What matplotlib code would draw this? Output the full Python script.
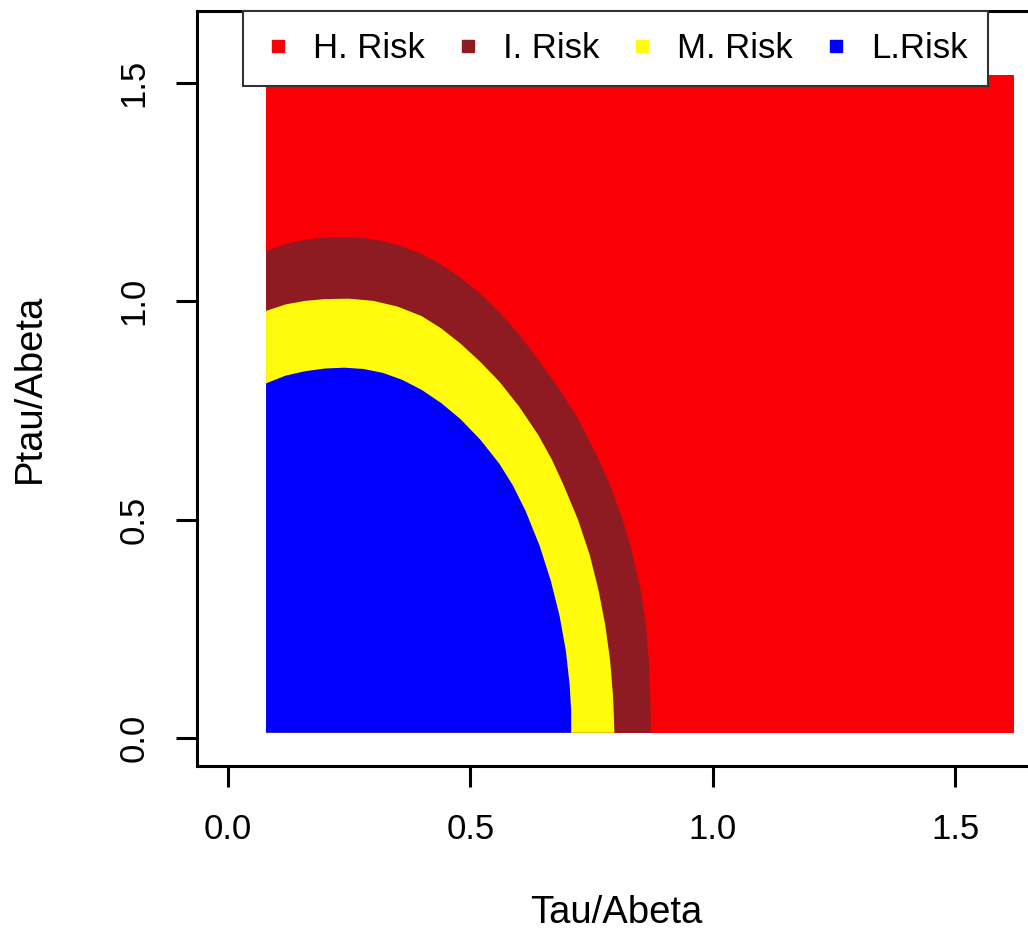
import matplotlib
matplotlib.use('Agg')
import matplotlib.pyplot as plt
from matplotlib.lines import Line2D

plt.rcParams['font.family'] = ['Liberation Sans', 'DejaVu Sans']

# Zona cubierta por la malla (riesgo alto de fondo)
grid_x = [0.079, 1.62]
grid_y = [0.012, 1.518]

# Fronteras (x, y), de borde izquierdo a borde inferior
irisk_x = [0.079, 0.12, 0.16, 0.20, 0.24, 0.28, 0.32, 0.36, 0.40, 0.44, 0.48,
           0.52, 0.56, 0.60, 0.64, 0.68, 0.72, 0.76, 0.788, 0.814, 0.835,
           0.851, 0.862, 0.868, 0.871, 0.872, 0.872]
irisk_y = [1.115, 1.131, 1.141, 1.146, 1.147, 1.145, 1.138, 1.126, 1.108, 1.084,
           1.054, 1.018, 0.975, 0.925, 0.866, 0.805, 0.735, 0.648, 0.58, 0.50,
           0.42, 0.34, 0.26, 0.18, 0.10, 0.05, 0.012]

mrisk_x = [0.079, 0.12, 0.16, 0.20, 0.25, 0.30, 0.35, 0.40, 0.44, 0.48, 0.52,
           0.56, 0.60, 0.64, 0.668, 0.692, 0.722, 0.746, 0.764, 0.778, 0.788,
           0.794, 0.796, 0.797]
mrisk_y = [0.978, 0.993, 1.001, 1.005, 1.006, 1.001, 0.988, 0.966, 0.938, 0.903,
           0.862, 0.816, 0.760, 0.694, 0.638, 0.58, 0.50, 0.42, 0.34, 0.26,
           0.18, 0.10, 0.05, 0.012]

lrisk_x = [0.079, 0.12, 0.16, 0.20, 0.24, 0.28, 0.32, 0.36, 0.40, 0.44, 0.48,
           0.52, 0.56, 0.588, 0.614, 0.643, 0.666, 0.684, 0.697, 0.705, 0.708,
           0.708]
lrisk_y = [0.812, 0.830, 0.840, 0.846, 0.848, 0.845, 0.836, 0.820, 0.797, 0.767,
           0.730, 0.684, 0.628, 0.578, 0.52, 0.44, 0.36, 0.28, 0.20, 0.12,
           0.06, 0.012]

labels = ['H. Risk', 'I. Risk', 'M. Risk', 'L.Risk']
colors = ['#fa0006', '#8f1b22', '#fffb0a', '#0000fc']

fig = plt.figure(figsize=(10.28, 9.34), dpi=100)
ax = fig.add_axes([0.1913, 0.1799, 0.8155, 0.808])

# Fondo rojo
ax.fill([grid_x[0], grid_x[1], grid_x[1], grid_x[0]],
        [grid_y[0], grid_y[0], grid_y[1], grid_y[1]],
        color=colors[0], lw=0)

# Regiones anidadas
for bx, by, c in [(irisk_x, irisk_y, colors[1]),
                  (mrisk_x, mrisk_y, colors[2]),
                  (lrisk_x, lrisk_y, colors[3])]:
    ax.fill(bx + [grid_x[0]], by + [grid_y[0]], color=c, lw=0)

ax.set_xlim(-0.064, 1.664)
ax.set_ylim(-0.064, 1.664)
ax.set_xticks([0.0, 0.5, 1.0, 1.5])
ax.set_yticks([0.0, 0.5, 1.0, 1.5])
ax.set_xticklabels(['0.0', '0.5', '1.0', '1.5'])
ax.set_yticklabels(['0.0', '0.5', '1.0', '1.5'], rotation=90, va='center')
ax.tick_params(direction='out', length=15, width=2.2, labelsize=25)
ax.tick_params(axis='x', pad=19)
ax.tick_params(axis='y', pad=18)
for s in ax.spines.values():
    s.set_linewidth(2.2)

ax.set_xlabel('Tau/Abeta', fontsize=27.5, va='center')
ax.xaxis.set_label_coords(0.5, -0.195)
ax.set_ylabel('Ptau/Abeta', fontsize=27.5, va='center')
ax.yaxis.set_label_coords(-0.199, 0.5)

handles = [Line2D([], [], marker='s', ls='none', color=c, markersize=8.5)
           for c in colors]
leg = ax.legend(handles, labels, loc='upper center', bbox_to_anchor=(0.5, 1.0),
                ncol=4, fontsize=25, frameon=True, fancybox=False,
                borderaxespad=0, borderpad=0.6, handlelength=0.8,
                handletextpad=0.6, columnspacing=0.85)
leg.get_frame().set_edgecolor('#333333')
leg.get_frame().set_linewidth(1.5)
leg.get_frame().set_alpha(1)

fig.savefig('out.png', dpi=100)
